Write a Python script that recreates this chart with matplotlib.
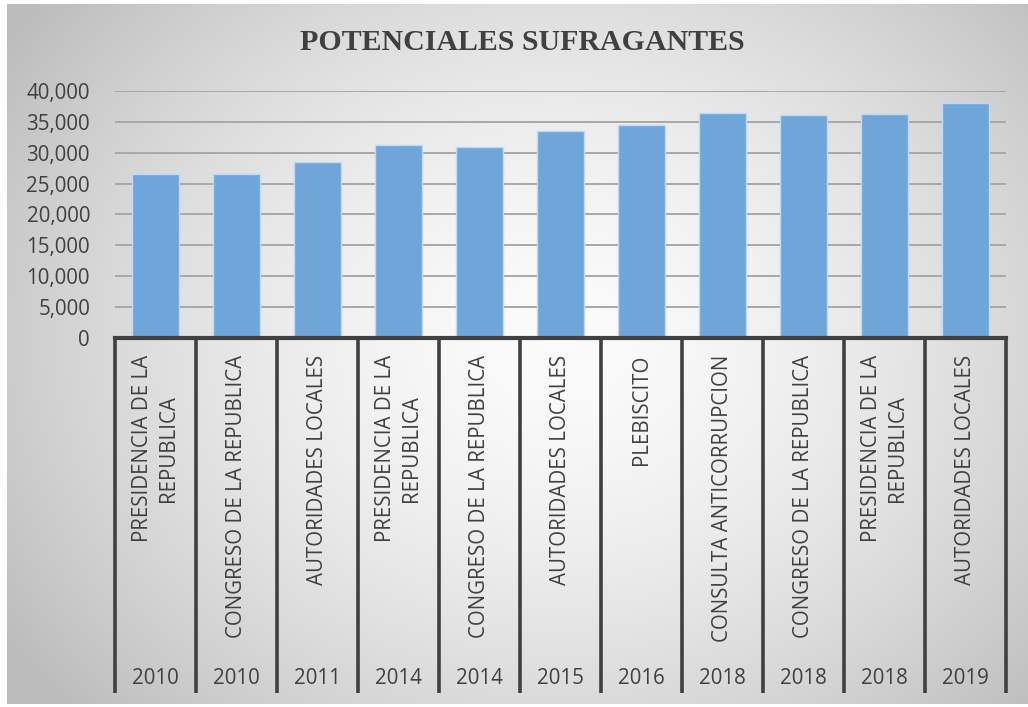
import numpy as np
import matplotlib
matplotlib.use("Agg")
import matplotlib.pyplot as plt
from matplotlib.transforms import blended_transform_factory

# ---- data ----
elections = ["PRESIDENCIA DE LA\nREPUBLICA", "CONGRESO DE LA REPUBLICA", "AUTORIDADES LOCALES",
             "PRESIDENCIA DE LA\nREPUBLICA", "CONGRESO DE LA REPUBLICA", "AUTORIDADES LOCALES",
             "PLEBISCITO", "CONSULTA ANTICORRUPCION", "CONGRESO DE LA REPUBLICA",
             "PRESIDENCIA DE LA\nREPUBLICA", "AUTORIDADES LOCALES"]
years = ["2010", "2010", "2011", "2014", "2014", "2015", "2016", "2018", "2018", "2018", "2019"]
voters = [26500, 26600, 28500, 31200, 31000, 33500, 34500, 36400, 36100, 36200, 38100]
yticks = [0, 5000, 10000, 15000, 20000, 25000, 30000, 35000, 40000]
title = "POTENCIALES SUFRAGANTES"

W, H = 1028, 707
fig = plt.figure(figsize=(W / 100, H / 100), dpi=100)
fig.patch.set_facecolor("white")

def fx(px):
    return px / W

def fy(py):
    return (H - py) / H

# ---- radial gradient background ----
bg = fig.add_axes([fx(7), fy(704), fx(1028) - fx(7), fy(4) - fy(704)], zorder=-5)
nx, ny = 400, 280
xx, yy = np.meshgrid(np.linspace(0, 1, nx), np.linspace(0, 1, ny))
r = np.sqrt(((xx - 0.54) / 0.62) ** 2 + ((yy - 0.52) / 0.75) ** 2)
val = 0.985 - 0.23 * np.clip(r, 0, 1.4) ** 1.6
val = np.clip(val, 0.74, 0.985)
bg.imshow(np.dstack([val, val, val]), extent=[0, 1, 0, 1], aspect="auto", origin="lower")
bg.set_axis_off()

FS = 14.8

# ---- main axes ----
ax = fig.add_axes([fx(115), fy(337.7), fx(1006) - fx(115), fy(91) - fy(337.7)])
ax.patch.set_alpha(0)
x = np.arange(len(voters))
ax.bar(x, voters, width=0.59, color="#6fa6d9", edgecolor="#c2d8ef", linewidth=1.0, zorder=3)
ax.set_xlim(-0.5, len(voters) - 0.5)
ax.set_ylim(0, 40000)
ax.set_yticks(yticks)
ax.set_yticklabels([f"{v:,}" for v in yticks], fontsize=FS, color="#404040", family="Open Sans")
ax.tick_params(axis="y", length=0, pad=18)
ax.set_xticks([])
ax.yaxis.grid(True, color="#a8a8a8", linewidth=1.4, zorder=0)
for s in ["top", "right", "left"]:
    ax.spines[s].set_visible(False)
ax.spines["bottom"].set_color("#404040")
ax.spines["bottom"].set_linewidth(3)
ax.spines["bottom"].set_zorder(4)

# ---- multi-level category axis ----
tr = blended_transform_factory(ax.transData, fig.transFigure)
for b in np.arange(-0.5, len(voters), 1.0):
    ax.plot([b, b], [fy(338), fy(693)], transform=tr, color="#404040", lw=2.6,
            clip_on=False, solid_capstyle="butt")
for i, (lab, yr) in enumerate(zip(elections, years)):
    ax.text(i, fy(355), lab, transform=tr, rotation=90, ha="center", va="top",
            multialignment="center", fontsize=FS, color="#404040", family="Open Sans",
            linespacing=1.3)
    ax.text(i, fy(678), yr, transform=tr, ha="center", va="center",
            fontsize=FS, color="#404040", family="Open Sans")

# ---- title ----
fig.text(fx(522), fy(43), title, ha="center", va="center", fontsize=21.5,
         fontweight="bold", family="Liberation Serif", color="#404040")

fig.savefig("out.png", dpi=100)
